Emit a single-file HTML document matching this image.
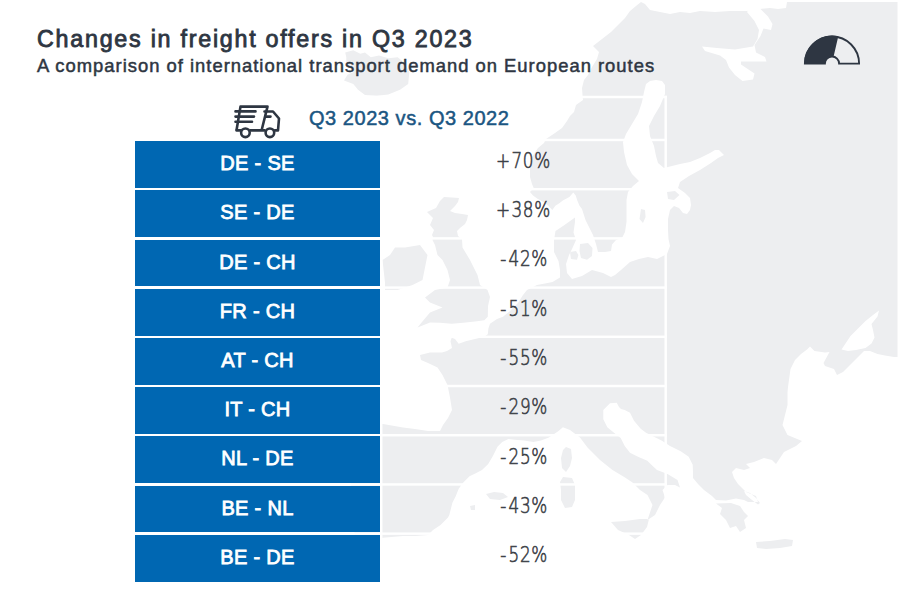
<!DOCTYPE html>
<html><head><meta charset="utf-8"><title>Changes in freight offers in Q3 2023</title>
<style>
html,body{margin:0;padding:0;background:#fff;}
body{width:900px;height:600px;position:relative;overflow:hidden;font-family:"Liberation Sans",Arial,sans-serif;}
#map{position:absolute;left:0;top:0;}
.t{position:absolute;white-space:nowrap;line-height:1;}
#title{left:37px;top:27.6px;font-size:23.3px;font-weight:400;color:#2e3642;letter-spacing:1.74px;-webkit-text-stroke:0.85px #2e3642;}
#sub{left:37px;top:57px;font-size:18.4px;font-weight:400;color:#2e3642;letter-spacing:1.0px;-webkit-text-stroke:0.5px #2e3642;}
#hdr{left:309px;top:108px;font-size:20px;font-weight:400;color:#1b5682;letter-spacing:0.54px;-webkit-text-stroke:0.5px #1b5682;}
.row{position:absolute;left:135px;width:245px;height:46.75px;background:#0067b2;color:#fff;font-weight:400;font-size:20px;text-align:center;line-height:44.55px;letter-spacing:0.3px;-webkit-text-stroke:0.8px #fff;}
.pct{position:absolute;left:383px;width:282px;text-align:center;font-family:"DejaVu Sans","Liberation Sans",sans-serif;font-weight:200;font-size:20.5px;color:#3c4147;-webkit-text-stroke:0.6px #3c4147;line-height:1;}
.pct>span{display:inline-block;transform:scaleX(0.82);letter-spacing:0.9px;}
.pct i{font-style:normal;letter-spacing:2.6px;}
.pct i.p{letter-spacing:1.6px;}
</style></head>
<body>
<svg id="map" width="900" height="600" viewBox="0 0 900 600">
<path d="M641,2 L636,6 L630,11 L625,18 L616,27 L611,32 L602,39 L593,46 L599,52 L597,59 L592,67 L588,75 L584,80 L582,88 L582.5,95 L583,100 L576,105 L574,112 L570,116 L567,121 L562,128 L555,133 L546,139 L544,143 L538,148 L532,157 L530,168 L530,177 L532,184 L533.7,188 L530,192 L533,195.6 L537.5,198.7 L543,201.8 L548.4,205.7 L552.3,210 L555.4,205.7 L559.3,203.3 L563.2,200.2 L569.4,197.1 L573.3,192.4 L575.7,195.6 L577.2,200.2 L579.5,205.7 L582,209 L585.5,220 L588.5,226 L593,235 L596,244 L598,252 L605,252 L611,251 L612,244.5 L616,240 L622,238 L625,232 L626.5,222 L626.5,210 L626.5,200 L628,192 L633,186 L639,181 L632,174 L627,165 L624,152 L623,142 L626,134 L632,124 L638,114 L642,102 L644,92 L646,84 L650,81 L656,80 L662,81 L665,85 L665,94 L660,106 L654,116 L649,126 L650,136 L654,146 L656,156 L658,163 L664,168 L672,166 L680,164 L690,162 L700,158 L710,153 L715,150 L719,150 L724,155 L718,158 L711,163 L700,170 L689,176 L680,182 L678,188 L685,193 L690,198 L691,205 L690,210 L687,214 L683,213 L679,208 L674,206 L670,210 L668,219 L668,230 L668.5,239 L670,246 L667,254 L657,259 L648,257 L639,259 L630,262 L621,270 L615,275 L611,277 L603,273 L592,270 L582,276 L572,279 L567,273 L566,264 L569,255 L572,249 L576,240 L573.5,232.5 L575,222 L575,217.5 L564.5,225 L555.5,231 L554,240 L554,252 L558.5,261 L560,270 L560,277.5 L552.5,282 L545,283.5 L537,285 L527,290 L523,295 L518,303 L510,311 L503,316.7 L497,319 L490,323.8 L488.4,328.5 L487.8,334.3 L484.3,336.7 L475,339 L465.7,341.3 L458.7,343.7 L455,339 L451.7,337.8 L450.5,341.3 L452,348 L447,351 L442,352.5 L430,352.5 L420,355 L421,360 L428,363 L437.5,367.5 L442.5,375 L447.5,385 L450,397.5 L452,410 L448,418 L443,425 L440,431 L428,431 L415,429 L403,427.5 L383,424 L370,424 L355,430 L350,470 L355,540 L380,538 L403,536 L415.5,536 L428,535 L433,530 L440.5,525 L448,517.5 L449.3,515 L452.4,502.8 L455.6,496.5 L458.7,488.8 L463.3,482.5 L469.5,476.3 L475.8,473.2 L482,470.1 L488.2,463.9 L492.9,456.1 L497.5,446.8 L502.2,442.1 L508.4,439 L514.7,439.8 L524,440.6 L533.3,442.1 L541,440.6 L548.9,437.4 L558.2,431.2 L562.9,427.3 L570,430 L580,437.5 L587.5,447.5 L600,460 L612.5,470 L625,477.5 L632.5,482.5 L640,490 L647.5,495 L652.5,505 L650,512.5 L647.5,520 L655,515 L660,505 L665,497.5 L662.5,490 L667.5,485 L675,485 L680,487.5 L677.5,480 L667.5,474 L657,470 L652.7,466 L647.3,460.7 L638,456.7 L630,452.7 L624.7,446 L620.7,438 L614,432.7 L607.3,427.3 L603.3,419.3 L603.3,410 L610,403.3 L616.7,402.7 L619,407 L621,409 L624.7,410 L630,412.7 L634,420.7 L640.7,428.7 L646,432.7 L654,436.7 L662,440.7 L670,446 L680.7,451.3 L688.7,456.7 L692.7,464.7 L693,472 L693,478 L698,484 L704,490 L712,496 L716,500 L726,500.5 L736,498.5 L744,500 L748,502 L758,502 L756,496 L746,492 L742,488 L738,484 L734,478 L732,472 L736,468 L744,470 L750,468 L746,464 L754,462 L764,458 L772,460 L776,464 L784,452 L796,446 L802,441 L787.5,435 L782.5,425 L785,415 L787.5,405 L787.5,392.5 L788,387 L790.5,369 L795,360 L801,354 L807,349.5 L810,346.5 L814.5,351 L825,352.5 L829.5,352 L823.5,363 L825,366 L834,369 L837,375 L843,372 L850.5,364.5 L858,357 L864,351 L870,351 L877.5,354 L885,355.5 L894,357 L897.5,357 L897.5,2 L787,2 L786,8 L778,9 L770,8 L760,9 L747,11 L730,11 L715,12 L700,11 L690,13 L680,12 L670,14 L660,12 L650,10 L645,4ZM444,197 L452,197.5 L459,198 L458,202 L455,206 L450,211 L455,213 L462,214 L468,215 L467,220 L465,224 L460,228 L457,231 L458,236 L462,239 L462.5,247.5 L470,260 L477.5,275 L480,285 L487.5,290 L490,297 L488,306 L487.8,316.8 L484.3,320.3 L475,321.5 L463.3,322.7 L451.7,323.8 L440,322.7 L430,322.5 L417.5,327.5 L422,322 L430,312.5 L442.5,307.5 L430,302.5 L425,297.5 L435,290 L447.5,287.5 L450,280 L447.5,270 L442.5,260 L437.5,255 L435,245 L432.5,240 L433,237 L432,235 L434,230 L430,225 L433,218 L427,212 L436,208 L440,201ZM405,247.5 L420,245 L427.5,255 L425,267.5 L422.5,280 L412.5,285 L397.5,290 L385,290 L385,282.5 L382.5,260 L390,255 L395,247.5ZM345.2,52.5 L353.3,50.2 L360.3,53.7 L365,52.5 L370.8,57.2 L379,55.4 L388.3,58.3 L397.7,57.2 L404.7,63 L409.3,72.3 L408.2,84 L400,89.8 L388.3,94.5 L376.7,95.7 L365,95 L358,89.8 L353.3,84 L344,80.5 L347.5,74.7 L353.3,72.3 L349.8,66.5 L346.3,61.8 L346.3,57.2ZM566,447 L571,449 L572,458 L570,466 L566,472 L562,468 L561,458 L563,450ZM563,477 L572,478 L575,485 L575,500 L572,507 L565,508 L561,500 L561,490 L560,482ZM611,522 L625,521 L640,519 L649,519 L647,527 L641,535 L635,539 L629,535 L618,530ZM756,542 L770,541 L785,539 L793,540 L792,546 L780,548 L766,549 L757,548ZM716,503.5 L722,508 L720,514 L726,520 L730,528 L736,526 L740,532 L746,528 L744,520 L748,516 L744,512 L740,506 L731,503ZM744,491 L750,493 L756,498 L760,503 L758,504.5 L752,500 L746,495ZM580,244 L588,243 L592.5,248 L592,256 L587,259.7 L581,258 L579.5,251ZM570,252 L576,251 L578.4,255 L577,259.7 L571,259ZM641,209 L645,210 L645.6,217 L643,223 L639.5,219ZM667,192 L675,191 L679.5,195 L674,200 L668,199ZM486,494 L494,492 L503,493 L508,497 L500,500 L490,499ZM470,506 L475,505 L475,510 L471,510Z" fill="#edeef0"/>
<path d="M756,0 L760.5,9 L768,16.5 L772.5,24 L771,30 L763.5,28.5 L760.5,36 L754.5,45 L756,52.5 L765,57 L766.5,61.5 L754.5,61.5 L741,61.5 L741,64.5 L750,70.5 L754.5,73.5 L753,79.5 L742.5,81 L735,75 L729,67.5 L726,60 L720,55.5 L705,51 L702,46.5 L717,48 L735,49.5 L753,46.5 L757.5,39 L759,30 L754.5,21 L747,12ZM841.5,349.5 L844.5,345 L850.5,336 L858,328.5 L865.5,321 L873,315 L879,310.5 L877.5,316.5 L871.5,324 L873,330 L874.5,337.5 L871.5,343.5 L865.5,348 L856,350 L848,351Z" fill="#fff"/>
<rect x="135" y="95.77" width="531.9300000000001" height="2.46" fill="#fff"/><rect x="135" y="138.74" width="531.9300000000001" height="2.46" fill="#fff"/><rect x="135" y="187.95" width="531.9300000000001" height="2.46" fill="#fff"/><rect x="135" y="237.16" width="531.9300000000001" height="2.46" fill="#fff"/><rect x="135" y="286.37" width="531.9300000000001" height="2.46" fill="#fff"/><rect x="135" y="335.58" width="531.9300000000001" height="2.46" fill="#fff"/><rect x="135" y="384.79" width="531.9300000000001" height="2.46" fill="#fff"/><rect x="135" y="434.00" width="531.9300000000001" height="2.46" fill="#fff"/><rect x="135" y="483.21" width="531.9300000000001" height="2.46" fill="#fff"/><rect x="135" y="532.42" width="531.9300000000001" height="2.46" fill="#fff"/><rect x="135" y="581.63" width="531.9300000000001" height="2.46" fill="#fff"/><rect x="664.47" y="95.77" width="2.46" height="489.5499999999999" fill="#fff"/><rect x="380" y="97" width="2.46" height="487.0899999999999" fill="#fff"/>
</svg>
<div class="t" id="title">Changes in freight offers in Q3 2023</div>
<div class="t" id="sub">A comparison of international transport demand on European routes</div>
<svg class="ico" style="position:absolute;left:230px;top:100px" width="56" height="40" viewBox="230 100 56 40" fill="none" stroke="#2e3642" stroke-width="2.6" stroke-linecap="round" stroke-linejoin="round">
<path d="M240.5,106.6 L267.5,106.6 L261.8,129.5 M236.6,129.8 L240.5,106.6"/>
<path d="M264.5,111.5 L273,111.5 L279,118.5 L278,130.4 L275,130.4 M264.5,130.4 L250.5,130.4 M240.5,130.4 L236.6,130.4"/>
<path d="M235.5,111.4 L255.5,111.4 M235.5,116.6 L254,116.6 M235.5,121.7 L252,121.7 M266,116.6 L270.5,116.6"/>
<circle cx="245.4" cy="132.8" r="4.3"/><circle cx="269.9" cy="132.8" r="4.3"/>
</svg>
<div class="t" id="hdr">Q3 2023 vs. Q3 2022</div>
<svg style="position:absolute;left:800px;top:32.4px" width="64" height="36" viewBox="800 33 64 36">
<path d="M804.9,64.6 A27.1,27.1 0 0 1 859.1,64.6 L839.1,64.6 A7.1,7.1 0 0 0 824.9,64.6 Z" fill="none" stroke="#2e3642" stroke-width="1.9" stroke-linejoin="miter"/>
<path d="M804,64.6 A28,28 0 0 1 838.3,37.3 L833.6,57.5 A7.2,7.2 0 0 0 824.8,64.6 Z" fill="#2e3642"/>
</svg>
<div class="row" style="top:141.20px">DE - SE</div><div class="pct" style="top:150.54px"><span><i class="p">+</i>70%</span></div><div class="row" style="top:190.41px">SE - DE</div><div class="pct" style="top:199.87px"><span><i class="p">+</i>38%</span></div><div class="row" style="top:239.62px">DE - CH</div><div class="pct" style="top:249.20px"><span><i>-</i>42%</span></div><div class="row" style="top:288.83px">FR - CH</div><div class="pct" style="top:298.53px"><span><i>-</i>51%</span></div><div class="row" style="top:338.04px">AT - CH</div><div class="pct" style="top:347.86px"><span><i>-</i>55%</span></div><div class="row" style="top:387.25px">IT - CH</div><div class="pct" style="top:397.19px"><span><i>-</i>29%</span></div><div class="row" style="top:436.46px">NL - DE</div><div class="pct" style="top:446.52px"><span><i>-</i>25%</span></div><div class="row" style="top:485.67px">BE - NL</div><div class="pct" style="top:495.85px"><span><i>-</i>43%</span></div><div class="row" style="top:534.88px">BE - DE</div><div class="pct" style="top:545.18px"><span><i>-</i>52%</span></div>
</body></html>
